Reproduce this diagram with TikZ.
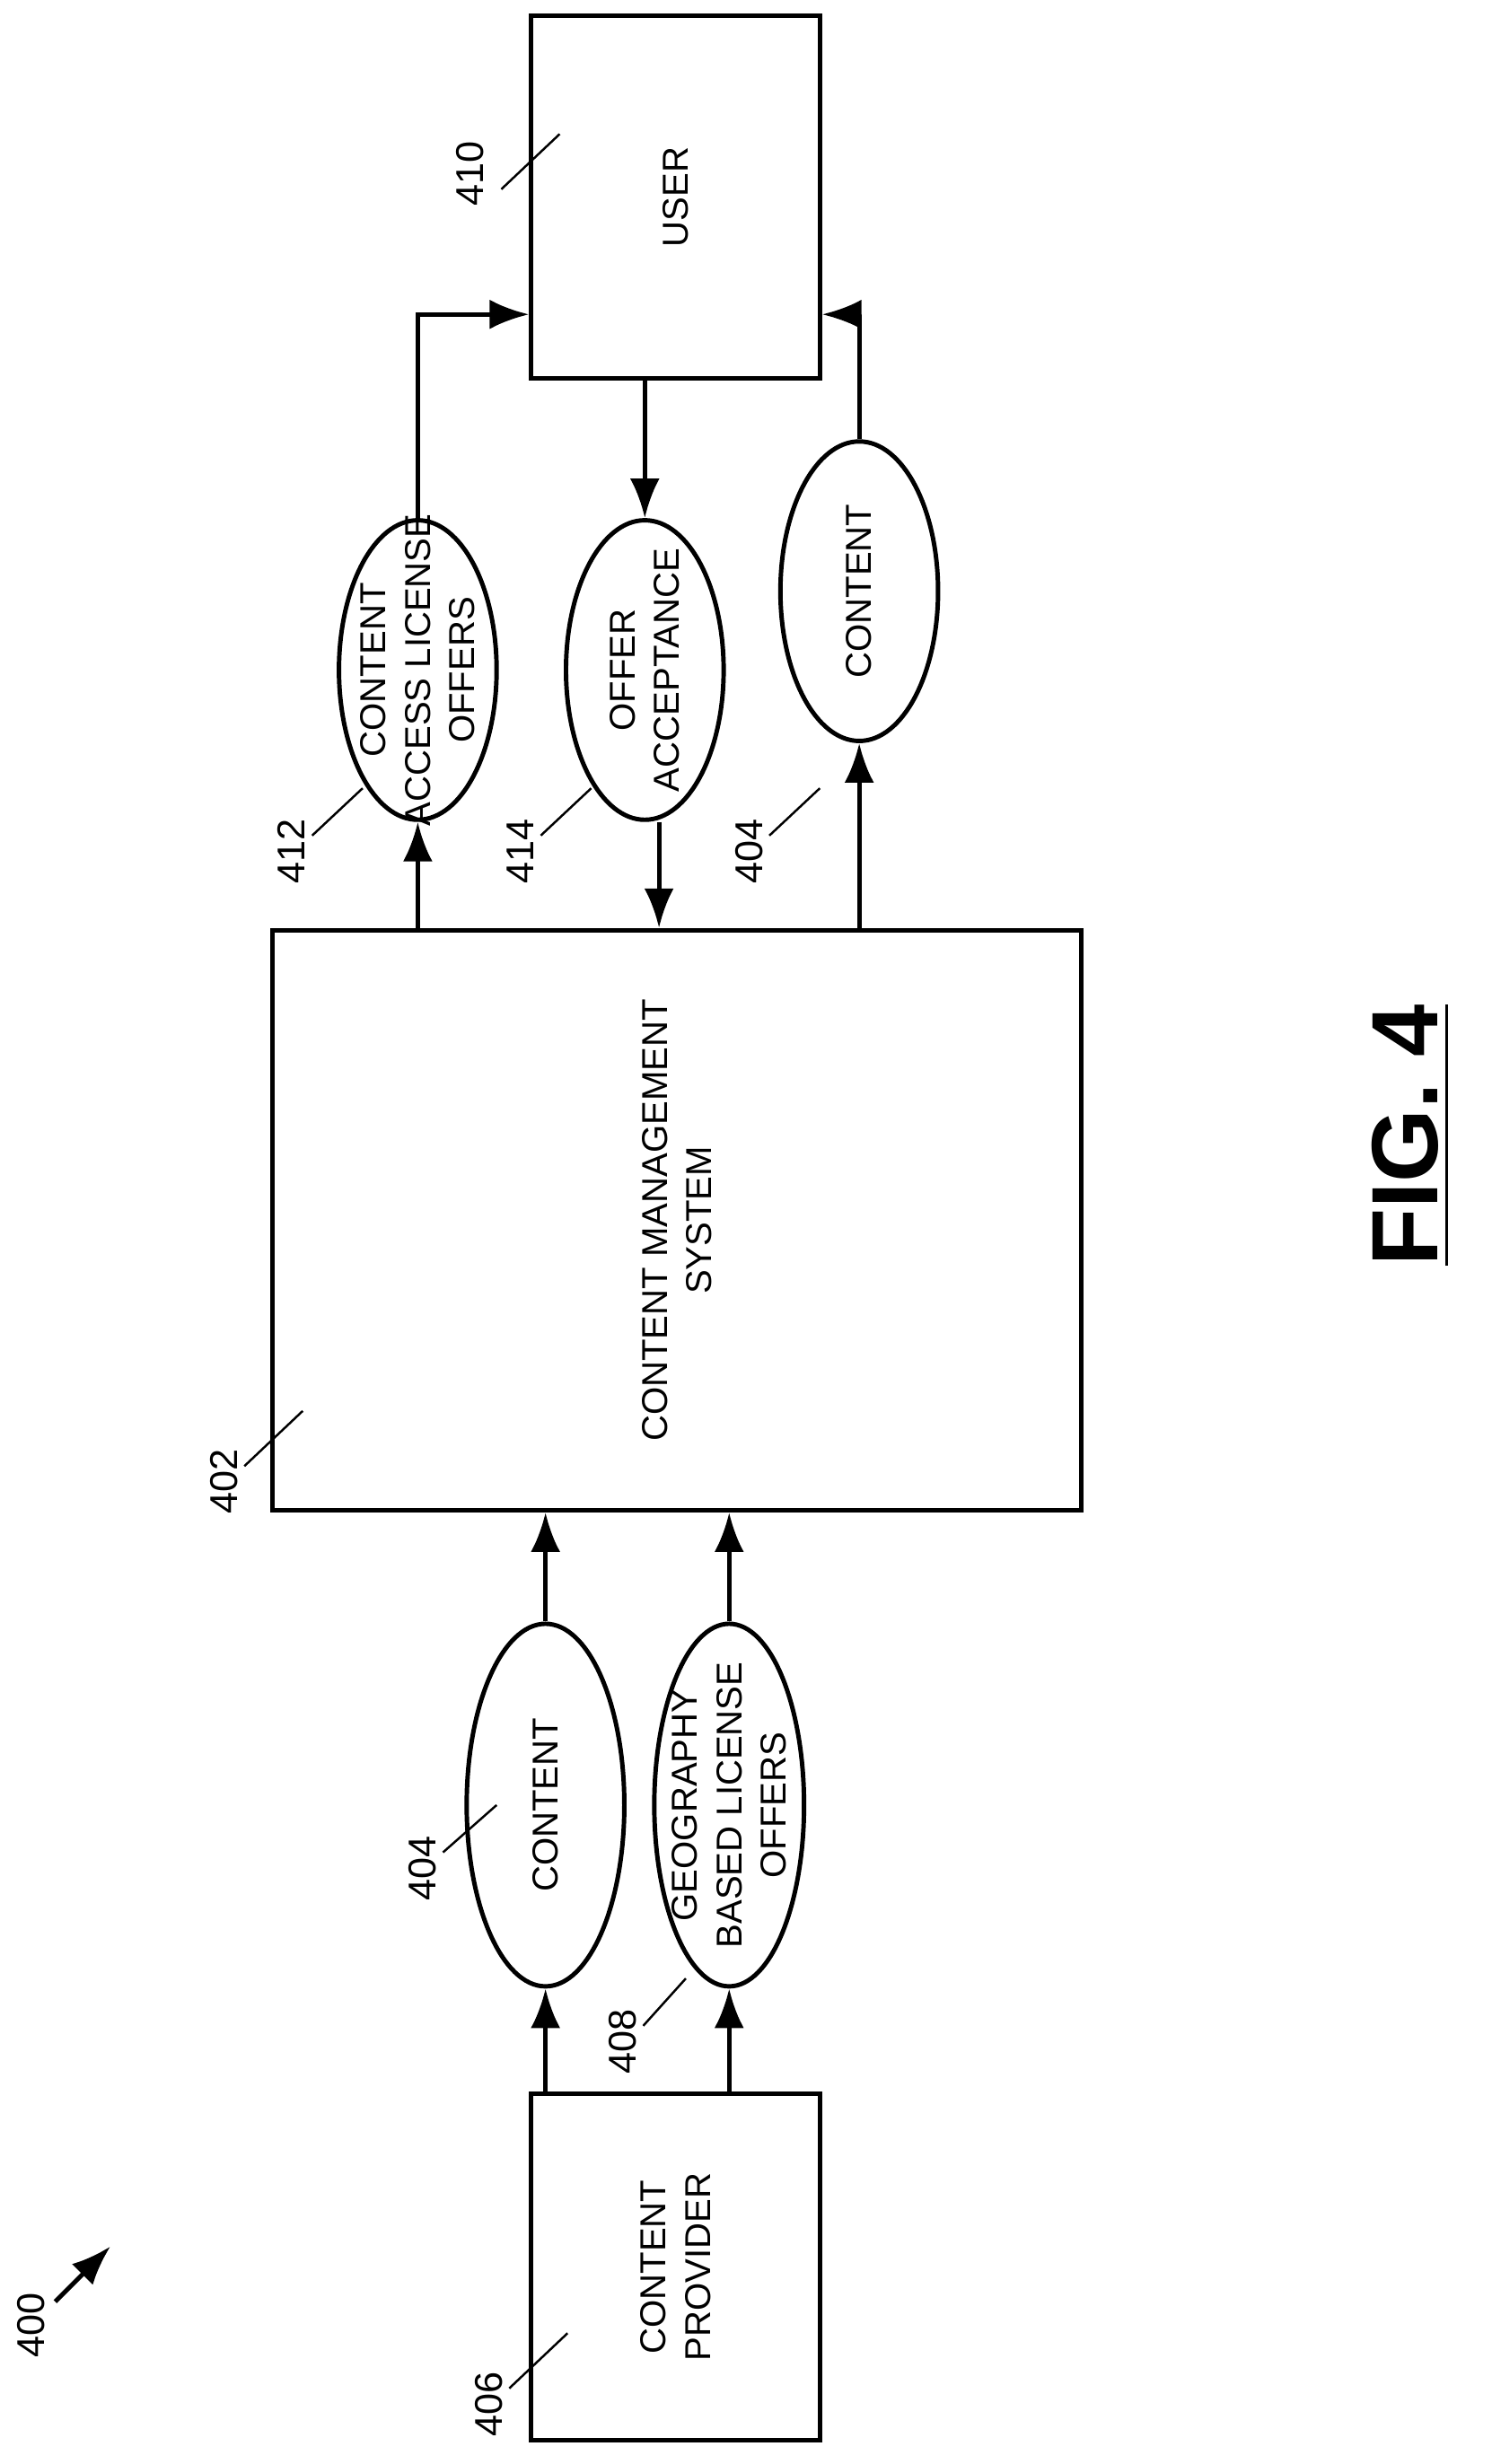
\documentclass[tikz,border=0pt]{standalone}
\usepackage{fontspec}
\setmainfont{Liberation Sans}
\usetikzlibrary{arrows.meta,shapes.geometric}
\tikzstyle{box}=[draw, thick, inner sep=0pt]
\tikzstyle{oval}=[draw, thick, ellipse, inner sep=0pt, minimum width=1cm, minimum height=1.9cm]
\tikzstyle{inner}=[rotate=90, align=center, inner sep=0pt]
\tikzstyle{arrow}=[draw=black, thick, -{Latex[length=2.5mm]}]
\tikzstyle{refnum}=[rotate=90, font=\fontsize{7}{8}\selectfont]
\begin{document}
\begin{tikzpicture}[font=\fontsize{6.5}{8}\selectfont]
		   \useasboundingbox (0,0) rectangle (9.46,-15.63);
		   \begin{scope}
			   \node (user) at (4.285,-1.25)[box, minimum width=1.83cm, minimum height=2.3cm] {};
			   \node (cms) at (4.295,-7.74)[box, minimum width=5.13cm, minimum height=3.68cm] {};
			   \node (prov) at (4.285,-14.38)[box, minimum width=1.83cm, minimum height=2.2cm] {};
			   \node (e412) at (2.65,-4.25)[oval] {};
			   \node (e414) at (4.09,-4.25)[oval] {};
			   \node (e404a) at (5.45,-3.75)[oval] {};
			   \node (e404b) at (3.46,-11.45)[oval, minimum height=2.3cm] {};
			   \node (e408) at (4.625,-11.45)[oval, minimum width=0.95cm, minimum height=2.3cm] {};
			   \node (tuser) at (user)[inner] {USER};
			   \node (tcms) at (cms)[inner] {CONTENT MANAGEMENT\\SYSTEM};
			   \node (tprov) at (prov)[inner] {CONTENT\\PROVIDER};
			   \node (t412) at (e412)[inner] {CONTENT\\ACCESS LICENSE\\OFFERS};
			   \node (t414) at (e414)[inner] {OFFER\\ACCEPTANCE};
			   \node (t404a) at (e404a)[inner] {CONTENT};
			   \node (t404b) at (e404b)[inner] {CONTENT};
			   \node (t408) at (e408)[inner] {GEOGRAPHY\\BASED LICENSE\\OFFERS};
		   \end{scope}
		   \begin{scope}
			   \path [arrow] (cms.north -| e412) -- (e412.south);
			   \path [arrow] (e412.north) |- ([yshift=0.42cm]user.south west);
			   \path [arrow] (user.south -| e414) -- (e414.north);
			   \path [arrow] ([xshift=0.09cm]e414.south) -- ([xshift=0.09cm]cms.north -| e414);
			   \path [arrow] (cms.north -| e404a) -- (e404a.south);
			   \path [arrow] (e404a.north) |- ([yshift=0.42cm]user.south east);
			   \path [arrow] (prov.north -| e404b) -- (e404b.south);
			   \path [arrow] (e404b.north) -- (cms.south -| e404b);
			   \path [arrow] (prov.north -| e408) -- (e408.south);
			   \path [arrow] (e408.north) -- (cms.south -| e408);
		   \end{scope}
		   \begin{scope}
			   \node (n410) at (2.98,-1.1)[refnum] {410};
			   \draw (3.18,-1.2) -- (3.55,-0.85);
			   \node (n402) at (1.42,-9.4)[refnum] {402};
			   \draw (1.55,-9.3) -- (1.92,-8.95);
			   \node (n412) at (1.85,-5.4)[refnum] {412};
			   \draw (1.98,-5.3) -- (2.3,-5.0);
			   \node (n414) at (3.3,-5.4)[refnum] {414};
			   \draw (3.43,-5.3) -- (3.75,-5.0);
			   \node (n404a) at (4.75,-5.4)[refnum] {404};
			   \draw (4.88,-5.3) -- (5.2,-5.0);
			   \node (n404b) at (2.68,-11.85)[refnum] {404};
			   \draw (2.81,-11.75) -- (3.15,-11.45);
			   \node (n408) at (3.95,-12.95)[refnum] {408};
			   \draw (4.08,-12.85) -- (4.35,-12.55);
			   \node (n406) at (3.1,-15.25)[refnum] {406};
			   \draw (3.23,-15.15) -- (3.6,-14.8);
			   \node (n400) at (0.2,-14.75)[refnum] {400};
			   \coordinate (t400) at (0.7,-14.25);
			   \draw [arrow] (0.35,-14.6) -- (t400);
			   \node (fig) at (8.95,-7.2)[rotate=90, font=\fontsize{17}{20}\selectfont\bfseries] {\underline{FIG. 4}};
		   \end{scope}
	   \end{tikzpicture}
\end{document}
